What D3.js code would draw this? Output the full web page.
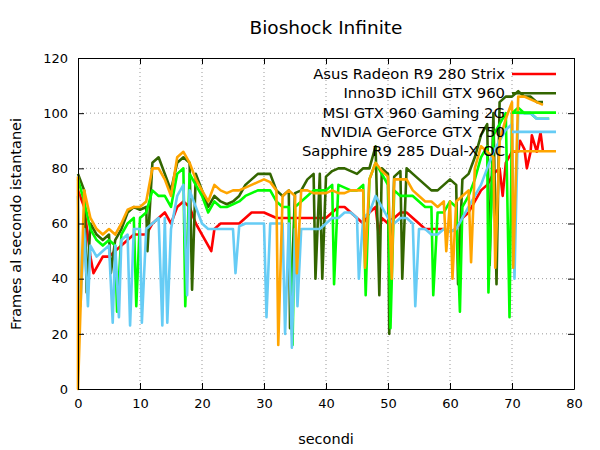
<!DOCTYPE html>
<html><head><meta charset="utf-8">
<script src="https://cdn.jsdelivr.net/npm/d3@7"></script>
<style>body{margin:0;background:#fff}text{font-family:"DejaVu Sans",sans-serif;font-size:13px}</style>
</head><body><div id="chart"></div>
<script>
// seconds 0..76, one value per second, plus isolated spikes [t, fps]
var seriesNames = ["Asus Radeon R9 280 Strix", "Inno3D iChill GTX 960", "MSI GTX 960 Gaming 2G", "NVIDIA GeForce GTX 750", "Sapphire R9 285 Dual-X OC"];
var colors = ["#ff0000", "#336600", "#00ff00", "#66ccf5", "#ffa500"];

var asus = [72,66,48,44,48,48,50,52,54,56,56,56,60,62,64,60,66,68,66,60,56,52,58,60,60,60,60,62,64,64,64,63,62,62,62,62,62,62,62,62,62,64,66,66,64,62,60,64,66,62,60,62,64,64,62,60,58,58,58,58,57,58,62,64,68,72,74,78,80,82,86,86,87,86,86,86];
var inno = [78,72,60,56,54,56,54,58,64,66,65,66,82,84,78,72,82,84,82,78,72,66,70,68,67,68,70,74,76,78,78,78,72,70,72,71,72,76,78,78,77,79,80,80,79,78,80,80,88,80,78,77,79,80,78,76,74,72,72,74,76,74,76,78,84,92,96,100,104,106,106,108,106,106,104,104];
var msi = [76,68,58,54,52,54,52,56,60,62,62,64,72,70,70,66,78,80,78,74,70,64,68,66,66,67,68,70,71,72,72,72,68,66,66,66,68,70,72,72,72,74,74,73,72,72,74,76,82,78,74,72,70,70,70,68,66,66,64,64,68,66,66,70,76,84,88,92,96,100,100,102,100,100,98,98,98];
var nvidia = [70,58,52,48,50,52,52,54,56,58,58,58,60,62,62,58,70,74,72,66,60,58,58,58,58,58,59,60,60,60,60,60,60,60,60,58,58,58,58,58,60,62,62,64,64,62,62,64,70,66,62,60,62,62,60,58,58,56,56,58,57,58,62,66,70,74,80,86,90,94,96,100,100,100,98,98,98];
var sapphire = [77,72,62,58,56,58,56,60,65,66,66,68,80,80,76,70,84,86,82,76,72,68,74,72,71,72,72,73,74,75,76,75,72,70,72,70,72,72,71,71,71,72,71,71,72,72,72,76,82,79,77,76,76,76,72,70,68,68,66,68,68,68,70,72,80,88,86,84,90,98,104,106,106,105,104,103];

var asusSpikes = [[2.5,42],[21.5,50],[48.5,56],[68.5,70],[71.3,90],[72.4,80],[73.2,92],[74.6,93]];
var innoSpikes = [[1.4,35],[5.3,42],[11.2,50],[18.4,36],[34.2,22],[38.3,40],[39.4,40],[48.6,34],[50.2,20],[52.3,40],[61.3,38],[66.4,45],[67.5,38]];
var msiSpikes = [[6.3,28],[9.4,30],[17.3,30],[34.6,16],[41.3,38],[46.4,34],[50.4,22],[57.3,34],[61.6,28],[66.2,35],[69.6,26]];
var nvidiaSpikes = [[0.4,30],[1.6,30],[5.6,24],[6.6,26],[8.4,23],[10.3,24],[13.6,23],[14.4,24],[17.6,34],[25.4,42],[30.4,26],[33.4,20],[34.5,15],[35.4,30],[45.3,40],[54.4,30],[70.4,40]];
var sapphireSpikes = [[0,0],[32.3,16],[35.3,42],[46.3,44],[50.6,40],[59.4,50],[60.4,40],[63.4,46],[67.3,44],[70.2,44]];

var xTicks = [0,10,20,30,40,50,60,70,80];
var yTicks = [0,20,40,60,80,100,120];

var allBase = [asus, inno, msi, nvidia, sapphire];
var allSpikes = [asusSpikes, innoSpikes, msiSpikes, nvidiaSpikes, sapphireSpikes];

var width = 600, height = 450;
var svg = d3.select("#chart").append("svg").attr("width", width).attr("height", height);
var x = d3.scaleLinear().domain([0, 80]).range([78, 574]);
var y = d3.scaleLinear().domain([0, 120]).range([389, 58]);

// grid
svg.selectAll(".gx").data(xTicks.slice(1, -1)).enter().append("line")
    .attr("x1", d => x(d)).attr("x2", d => x(d)).attr("y1", y(0)).attr("y2", y(120))
    .attr("stroke", "#999").attr("stroke-dasharray", "1,3");
svg.selectAll(".gy").data(yTicks.slice(1, -1)).enter().append("line")
    .attr("y1", d => y(d)).attr("y2", d => y(d)).attr("x1", x(0)).attr("x2", x(80))
    .attr("stroke", "#999").attr("stroke-dasharray", "1,3");

var line = d3.line().x(d => x(d[0])).y(d => y(d[1]));
allBase.forEach(function(vals, i) {
    var pts = vals.map((v, t) => [t, v]).concat(allSpikes[i]);
    pts.sort((a, b) => a[0] - b[0]);
    svg.append("path").attr("d", line(pts)).attr("fill", "none")
        .attr("stroke", colors[i]).attr("stroke-width", 2.6).attr("stroke-linejoin", "round");
});

// axes (ticks inward, mirrored)
var ax = svg.append("g");
ax.append("g").attr("transform", "translate(0," + y(0) + ")").call(d3.axisBottom(x).tickValues(xTicks).tickSizeInner(-6).tickSizeOuter(0).tickPadding(10));
ax.append("g").attr("transform", "translate(0," + y(120) + ")").call(d3.axisTop(x).tickValues(xTicks).tickSizeInner(-6).tickSizeOuter(0).tickFormat(""));
ax.append("g").attr("transform", "translate(" + x(0) + ",0)").call(d3.axisLeft(y).tickValues(yTicks).tickSizeInner(-6).tickSizeOuter(0).tickPadding(10));
ax.append("g").attr("transform", "translate(" + x(80) + ",0)").call(d3.axisRight(y).tickValues(yTicks).tickSizeInner(-6).tickSizeOuter(0).tickFormat(""));
ax.selectAll(".domain, .tick line").attr("stroke", "#000");
ax.selectAll("text").attr("font-size", "14.5px").attr("fill", "#000").style("font-family", '"DejaVu Sans",sans-serif');

// legend
var lg = svg.selectAll(".lg").data(seriesNames).enter().append("g")
    .attr("transform", (d, i) => "translate(0," + (74 + i * 19.3) + ")");
lg.append("text").attr("x", 505).attr("dy", "0.35em").attr("text-anchor", "end").style("font-size", "14.8px").text(d => d);
lg.append("line").attr("x1", 512).attr("x2", 556).attr("stroke", (d, i) => colors[i]).attr("stroke-width", 2.6);

svg.append("text").attr("x", 326).attr("y", 34).attr("text-anchor", "middle").style("font-size", "18.5px").text("Bioshock Infinite");
svg.append("text").attr("x", 326).attr("y", 444).attr("text-anchor", "middle").style("font-size", "14.5px").text("secondi");
svg.append("text").attr("transform", "translate(21,224) rotate(-90)").attr("text-anchor", "middle").style("font-size", "14.5px").text("Frames al secondo istantanei");
</script></body></html>
